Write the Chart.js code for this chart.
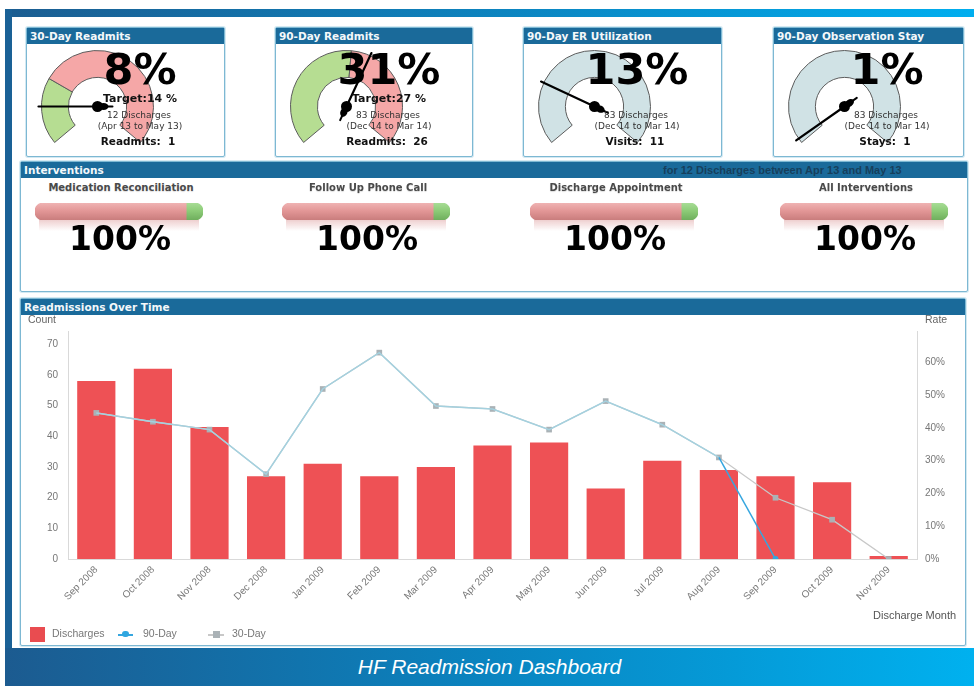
<!DOCTYPE html>
<html>
<head>
<meta charset="utf-8">
<script src="https://cdn.jsdelivr.net/npm/chart.js@4"></script>
<style>
  body { margin: 0; width: 974px; height: 686px; position: relative; overflow: hidden; background: #fff;
         font-family: "DejaVu Sans", Verdana, sans-serif; }
  .abs { position: absolute; }
  .topbar { left: 5px; top: 9px; width: 969px; height: 8px; background: linear-gradient(90deg, #1b5d91, #0b87c3 55%, #00aeef); }
  .leftbar { left: 5px; top: 9px; width: 7px; height: 640px; background: #1a6196; }
  .banner { left: 5px; top: 648px; width: 969px; height: 38px; background: linear-gradient(90deg, #1c5b90, #0a84c0 50%, #00b1ef);
            color: #fff; font: italic 21px "Liberation Sans", Arial, sans-serif; text-align: center; line-height: 38px; }
  .panel { position: absolute; box-sizing: border-box; border: 1px solid #7db8d3; border-radius: 2px;
           box-shadow: 0 0 0 1px #d4e9f2; background: #fff; }
  .hdr { height: 16px; background: #1a6a9a; color: #f4f8fa; font-weight: bold; font-size: 10.5px; line-height: 16px;
         padding-left: 3px; position: relative; white-space: nowrap; }
  .hdr .sub { position: absolute; left: 642px; top: 0; color: #163f5c; font: bold 11px "Liberation Sans", Arial, sans-serif; line-height: 17px; }
  .c { position: absolute; text-align: center; white-space: pre; transform: translateX(-50%); }
  .big { font-weight: bold; font-size: 43px; line-height: 43px; color: #000; }
  .tgt { font-weight: bold; font-size: 11px; line-height: 13px; color: #111; }
  .sm { font-size: 9px; line-height: 11px; color: #333; }
  .cnt { font-weight: bold; font-size: 10.5px; line-height: 13px; color: #111; }
  .ititle { font-weight: bold; font-size: 10px; line-height: 14px; color: #4a4a4a; text-shadow: 0 1px 1px #ddd; }
  .ipct { font-weight: bold; font-size: 33px; line-height: 33px; color: #000; }
  .refl { position: absolute; height: 12px; background: linear-gradient(180deg, rgba(215,140,140,0.45), rgba(255,255,255,0)); }
  .lbl { position: absolute; font: 10.5px "Liberation Sans", Arial, sans-serif; color: #666; white-space: nowrap; }
  canvas { position: absolute; }
</style>
</head>
<body>
<div class="abs topbar"></div>
<div class="abs leftbar"></div>
<div class="abs banner">HF Readmission Dashboard</div>

<div id="gauges"></div>

<div class="panel" style="left:20px;top:161px;width:948px;height:131px;">
  <div class="hdr">Interventions<span class="sub">for 12 Discharges between Apr 13 and May 13</span></div>
</div>
<div id="interventions"></div>

<div class="panel" style="left:20px;top:298px;width:946px;height:348px;">
  <div class="hdr">Readmissions Over Time</div>
</div>
<canvas id="trend" width="944" height="330" style="left:21px;top:315px;"></canvas>
<div class="lbl" style="left:28px;top:313px;">Count</div>
<div class="lbl" style="left:925px;top:313px;">Rate</div>
<div class="lbl" style="left:873px;top:609px;font-size:11px;color:#555;">Discharge Month</div>

<div id="legend"></div>

<script>
// ---- gauges ----
const gaugeTitles = ["30-Day Readmits", "90-Day Readmits", "90-Day ER Utilization", "90-Day Observation Stay"];
const gaugeValues = [8, 31, 13, 1];
const gaugeTargets = [14, 27, null, null];
const gaugeDischarges = ["12 Discharges", "83 Discharges", "83 Discharges", "83 Discharges"];
const gaugePeriods = ["(Apr 13 to May 13)", "(Dec 14 to Mar 14)", "(Dec 14 to Mar 14)", "(Dec 14 to Mar 14)"];
const gaugeCounts = ["Readmits:  1", "Readmits:  26", "Visits:  11", "Stays:  1"];
const gaugeMax = 52;

// ---- interventions ----
const interventionNames = ["Medication Reconciliation", "Follow Up Phone Call", "Discharge Appointment", "All Interventions"];
const interventionValues = [100, 100, 100, 100];
const interventionRed = 90;   // pink band, then green band to 100

// ---- readmissions over time ----
const months = ["Sep 2008", "Oct 2008", "Nov 2008", "Dec 2008", "Jan 2009", "Feb 2009", "Mar 2009", "Apr 2009",
                "May 2009", "Jun 2009", "Jul 2009", "Aug 2009", "Sep 2009", "Oct 2009", "Nov 2009"];
const discharges = [58, 62, 43, 27, 31, 27, 30, 37, 38, 23, 32, 29, 27, 25, 1];
const rate90 = [44.6, 41.9, 39.5, 25.9, 51.9, 63, 46.7, 45.8, 39.5, 48.2, 41, 31, 0, null, null];
const rate30 = [44.6, 41.9, 39.5, 25.9, 51.9, 63, 46.7, 45.8, 39.5, 48.2, 41, 31, 18.7, 12, 0];

const gaugeLeft = [26, 275, 523, 773];
const gaugeWidth = [199, 198, 199, 191];

/* needle drawn from the value on the doughnut's own angle range */
const needle = {
  id: "needle",
  afterDatasetsDraw(chart, args, opts) {
    const arc = chart.getDatasetMeta(0).data[0];
    const x = arc.x, y = arc.y, r = arc.outerRadius;
    const a = (chart.options.rotation + opts.value / opts.max * chart.options.circumference - 90) * Math.PI / 180;
    const dx = Math.cos(a), dy = Math.sin(a);
    const c = chart.ctx;
    c.save();
    c.strokeStyle = "#000";
    c.fillStyle = "#000";
    c.lineCap = "round";
    c.lineWidth = 2.2;
    c.beginPath();
    c.moveTo(x, y);
    c.lineTo(x + dx * (r + 3), y + dy * (r + 3));
    c.stroke();
    c.lineWidth = 2;
    c.beginPath();
    c.moveTo(x, y);
    c.lineTo(x - dx * 15, y - dy * 15);
    c.stroke();
    c.beginPath();
    c.arc(x, y, 5.5, 0, Math.PI * 2);
    c.fill();
    c.beginPath();
    c.ellipse(x - dx * 6, y - dy * 6, 5, 3.5, a, 0, Math.PI * 2);
    c.fill();
    c.restore();
  }
};

function buildGauges() {
  const box = document.getElementById("gauges");
  gaugeTitles.forEach((title, i) => {
    const left = gaugeLeft[i];
    const panel = document.createElement("div");
    panel.className = "panel";
    panel.style.cssText = `left:${left}px;top:27px;width:${gaugeWidth[i]}px;height:130px;`;
    panel.innerHTML = `<div class="hdr">${title}</div>`;
    box.appendChild(panel);

    const cv = document.createElement("canvas");
    cv.width = 123;
    cv.height = 103;
    cv.style.left = (left + 10) + "px";
    cv.style.top = "45px";
    box.appendChild(cv);

    const t = gaugeTargets[i];
    const segs = t == null ? [gaugeMax] : [t, gaugeMax - t];
    const cols = t == null ? ["#d0e2e5"] : ["#b6dd92", "#f5a7a7"];

    new Chart(cv, {
      type: "doughnut",
      data: { datasets: [{ data: segs, backgroundColor: cols, borderColor: "#5c5c5c", borderWidth: 1 }] },
      options: {
        responsive: false,
        animation: false,
        rotation: -130,
        circumference: 260,
        cutout: "52%",
        layout: { padding: 5 },
        events: [],
        plugins: {
          legend: { display: false },
          tooltip: { enabled: false },
          needle: { value: gaugeValues[i], max: gaugeMax }
        }
      },
      plugins: [needle]
    });

    const cx = left + 114;
    let html = `<div class="c big" style="left:${cx}px;top:48px;">${gaugeValues[i]}%</div>`;
    if (t != null) html += `<div class="c tgt" style="left:${cx}px;top:92px;">Target:${t} %</div>`;
    html += `<div class="c sm" style="left:${cx - 1}px;top:110px;">${gaugeDischarges[i]}</div>`;
    html += `<div class="c sm" style="left:${cx}px;top:121px;">${gaugePeriods[i]}</div>`;
    html += `<div class="c cnt" style="left:${cx - 2}px;top:135px;">${gaugeCounts[i]}</div>`;
    const txt = document.createElement("div");
    txt.innerHTML = html;
    box.appendChild(txt);
  });
}

function buildInterventions() {
  const box = document.getElementById("interventions");
  const centers = [119, 366, 614, 864];
  interventionNames.forEach((name, i) => {
    const cx = centers[i];
    const title = document.createElement("div");
    title.className = "c ititle";
    title.style.cssText = `left:${cx + 2}px;top:181px;`;
    title.textContent = name;
    box.appendChild(title);

    const refl = document.createElement("div");
    refl.className = "refl";
    refl.style.cssText = `left:${cx - 80}px;top:219px;width:160px;`;
    box.appendChild(refl);

    const cv = document.createElement("canvas");
    cv.width = 168;
    cv.height = 17;
    cv.style.left = (cx - 84) + "px";
    cv.style.top = "203px";
    box.appendChild(cv);

    const grad = (top, mid, bot) => ctx => {
      const area = ctx.chart.chartArea;
      if (!area) return mid;
      const g = ctx.chart.ctx.createLinearGradient(0, area.top, 0, area.bottom);
      g.addColorStop(0, top);
      g.addColorStop(0.45, mid);
      g.addColorStop(1, bot);
      return g;
    };

    new Chart(cv, {
      type: "bar",
      data: {
        labels: [name],
        datasets: [
          { data: [Math.min(interventionRed, interventionValues[i])], backgroundColor: grad("#efb3b3", "#e39797", "#c97d7d"),
            borderSkipped: false, borderRadius: { topLeft: 8, bottomLeft: 8, topRight: 0, bottomRight: 0 } },
          { data: [interventionValues[i] - interventionRed], backgroundColor: grad("#a7dc95", "#8dcc78", "#6fae5d"),
            borderSkipped: false, borderRadius: { topLeft: 0, bottomLeft: 0, topRight: 8, bottomRight: 8 } }
        ]
      },
      options: {
        indexAxis: "y",
        responsive: false,
        animation: false,
        events: [],
        layout: { padding: 0 },
        plugins: { legend: { display: false }, tooltip: { enabled: false } },
        scales: {
          x: { display: false, stacked: true, min: 0, max: 100 },
          y: { display: false, stacked: true }
        },
        datasets: { bar: { barPercentage: 1, categoryPercentage: 1 } }
      }
    });

    const pct = document.createElement("div");
    pct.className = "c ipct";
    pct.style.cssText = `left:${cx + 1}px;top:222px;`;
    pct.textContent = interventionValues[i] + "%";
    box.appendChild(pct);
  });
}

function buildTrend() {
  const tickFont = { family: "'Liberation Sans', Arial, sans-serif", size: 10 };
  new Chart(document.getElementById("trend"), {
    data: {
      labels: months,
      datasets: [
        {
          type: "line", label: "90-Day", data: rate90, yAxisID: "y1", order: 0,
          borderColor: "#a4d1df", borderWidth: 1.5, tension: 0,
          pointRadius: rate90.map((v, i) => (v === 0 ? 3 : 0)),
          pointBackgroundColor: "#2fa6e0", pointBorderWidth: 0,
          segment: { borderColor: ctx => (rate90[ctx.p1DataIndex] === 0 ? "#36a6df" : undefined) }
        },
        {
          type: "line", label: "30-Day", data: rate30, yAxisID: "y1", order: 1,
          borderColor: "#c8c8c8", borderWidth: 1.3, tension: 0,
          pointStyle: "rect", pointRadius: 4, pointBackgroundColor: "#aab2b6", pointBorderWidth: 0
        },
        {
          type: "bar", label: "Discharges", data: discharges, yAxisID: "y", order: 2,
          backgroundColor: "#ee5155", barPercentage: 0.9, categoryPercentage: 0.75
        }
      ]
    },
    options: {
      responsive: false,
      animation: false,
      events: [],
      layout: { padding: { top: 13, left: 0, right: 0, bottom: 0 } },
      plugins: { legend: { display: false }, tooltip: { enabled: false } },
      scales: {
        x: {
          grid: { display: false, drawTicks: false },
          border: { color: "#d9d9d9" },
          ticks: { color: "#777", font: tickFont, minRotation: 45, maxRotation: 45, padding: 5, autoSkip: false },
          afterFit: s => { s.height = 86; }
        },
        y: {
          position: "left", min: 0, max: 74.3,
          grid: { display: false, drawTicks: false },
          border: { color: "#d9d9d9" },
          ticks: { stepSize: 10, padding: 10, color: "#777", font: tickFont },
          afterBuildTicks: s => { s.ticks = s.ticks.filter(t => t.value % 10 === 0); },
          afterFit: s => { s.width = 47; }
        },
        y1: {
          position: "right", min: 0, max: 69.6,
          grid: { display: false, drawTicks: false },
          border: { color: "#d9d9d9" },
          ticks: { stepSize: 10, padding: 8, color: "#777", font: tickFont, callback: v => v + "%" },
          afterBuildTicks: s => { s.ticks = s.ticks.filter(t => t.value % 10 === 0); },
          afterFit: s => { s.width = 48; }
        }
      }
    }
  });

  // legend
  document.getElementById("legend").innerHTML = `
    <div class="abs" style="left:30px;top:627px;width:15px;height:15px;background:#e94c50;"></div>
    <div class="lbl" style="left:52px;top:627px;color:#777;">Discharges</div>
    <div class="abs" style="left:118px;top:634px;width:15px;height:2px;background:#36a6df;"></div>
    <div class="abs" style="left:122px;top:631px;width:7px;height:6px;border-radius:3px;background:#2fa6e0;"></div>
    <div class="lbl" style="left:143px;top:627px;color:#777;">90-Day</div>
    <div class="abs" style="left:208px;top:634px;width:16px;height:1.5px;background:#c8c8c8;"></div>
    <div class="abs" style="left:213px;top:631px;width:7px;height:7px;background:#aab2b6;"></div>
    <div class="lbl" style="left:232px;top:627px;color:#777;">30-Day</div>`;
}

buildGauges();
buildInterventions();
buildTrend();
</script>
</body>
</html>
